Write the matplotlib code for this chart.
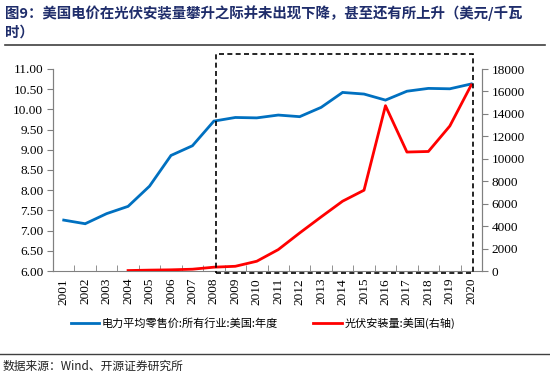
import matplotlib
matplotlib.use("Agg")
import matplotlib.pyplot as plt
import matplotlib.transforms as mtransforms
from matplotlib.lines import Line2D
from matplotlib.patches import Rectangle

plt.rcParams['font.family'] = ['Liberation Serif', 'Noto Sans CJK SC', 'DejaVu Sans']

years = [str(y) for y in range(2001, 2021)]
price = [7.26, 7.17, 7.42, 7.60, 8.10, 8.86, 9.10, 9.71, 9.80, 9.79,
         9.86, 9.82, 10.05, 10.42, 10.38, 10.23, 10.45, 10.52, 10.51, 10.63]
pv_years = [str(y) for y in range(2004, 2021)]
pv = [40, 79, 105, 160, 340, 420, 870, 1905, 3390, 4820, 6220, 7200,
      14730, 10600, 10650, 12920, 16580]

blue = '#0070C0'
red = '#FF0000'
navy = '#1F2D6B'

fig = plt.figure(figsize=(5.5, 3.77), dpi=100)
ax = fig.add_axes([53/550, 1-271/377, (482-53)/550, (271-69)/377])
ax2 = ax.twinx()

x = list(range(len(years)))
ax.plot(x, price, color=blue, lw=2.0, solid_joinstyle='miter')
xi = [years.index(y) for y in pv_years]
ax2.plot(xi, pv, color=red, lw=2.0)

ax.set_xlim(-0.5, len(years)-0.5)
ax.set_ylim(6, 11)
ax.set_yticks([6 + 0.5*i for i in range(11)])
ax.set_yticklabels([f"{6+0.5*i:.2f}" for i in range(11)])
ax2.set_ylim(0, 18000)
ax2.set_yticks(range(0, 18001, 2000))

ax.set_xticks(x)
ax.set_xticklabels(years, rotation=90, fontsize=9.5)
ax.set_xticks([i+0.5 for i in range(-1, len(years))], minor=True)
ax.tick_params(axis='x', which='major', length=0, pad=5)
ax.tick_params(axis='x', which='minor', direction='in', length=4, color='#808080')
ax.tick_params(axis='y', labelsize=9.5, length=4, color='#808080', pad=3)
ax2.tick_params(axis='y', labelsize=9.5, length=4, color='#808080', pad=3)

for a in (ax, ax2):
    a.spines['top'].set_visible(False)
    for s in ('left', 'right', 'bottom'):
        a.spines[s].set_color('#808080')
ax2.spines['bottom'].set_visible(False)

# dashed highlight box
trans = mtransforms.blended_transform_factory(ax.transData, ax.transAxes)
rect = Rectangle((7.1, -0.012), 19.07-7.1, 1.086, transform=trans, fill=False,
                 ls=(0, (3, 2)), lw=1.2, ec='black', clip_on=False, zorder=5)
ax2.add_patch(rect)

# title
tfont = ['Noto Sans CJK SC', 'DejaVu Sans']
fig.text(5/550, 1-13/377, "图9：美国电价在光伏安装量攀升之际并未出现下降，甚至还有所上升（美元/千瓦",
         fontsize=10.4, fontweight='bold', color=navy, va='center', ha='left', family=tfont)
fig.text(5/550, 1-33/377, "时）", fontsize=10.4, fontweight='bold', color=navy,
         va='center', ha='left', family=tfont)
fig.add_artist(Line2D([5/550, 545/550], [1-45/377, 1-45/377], color='#404040', lw=1.2))

# legend
handles = [Line2D([], [], color=blue, lw=2.0), Line2D([], [], color=red, lw=2.0)]
labels = ["电力平均零售价:所有行业:美国:年度", "光伏安装量:美国(右轴)"]
fig.legend(handles, labels, loc='center', bbox_to_anchor=(0.478, 1-323/377), ncol=2,
           frameon=False, prop={'family': ['Noto Sans CJK SC', 'DejaVu Sans'], 'size': 8},
           handlelength=2.6, handletextpad=0.2, columnspacing=3.2)

# source
fig.add_artist(Line2D([0, 1], [1-354/377, 1-354/377], color='#404040', lw=1.0))
fig.text(3/550, 1-366/377, "数据来源：Wind、开源证券研究所", fontsize=8.5, va='center',
         ha='left', family=['Noto Sans CJK SC', 'DejaVu Sans'], color='#222222')

fig.savefig("out.png", dpi=100)
